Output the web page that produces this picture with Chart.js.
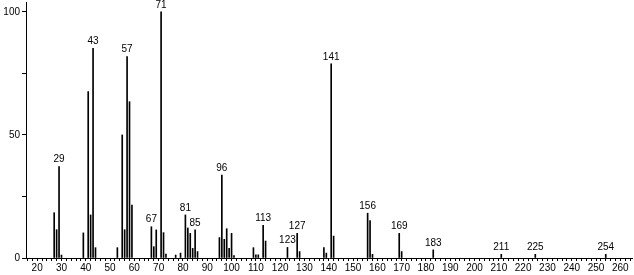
<!DOCTYPE html>
<html>
<head>
<meta charset="utf-8">
<script src="https://cdn.jsdelivr.net/npm/chart.js@4.4.1/dist/chart.umd.min.js"></script>
<style>
  html, body { margin: 0; padding: 0; background: #fff; }
  #wrap { width: 634px; height: 275px; }
</style>
</head>
<body>
<div id="wrap"><canvas id="c" width="634" height="275"></canvas></div>
<script>
const mz = [27,28,29,30,39,41,42,43,44,53,55,56,57,58,59,67,68,69,71,72,73,77,79,81,82,83,84,85,86,95,96,97,98,99,100,101,109,110,111,113,114,123,127,128,138,139,141,142,156,157,158,169,170,183,211,225,254];
const intensity = [18.4,11.5,37.1,1.2,10.2,67.6,17.5,85.2,4.2,4.2,50,11.5,81.8,63.5,21.5,12.7,4.6,11.4,100,10.3,1.6,1.2,2,17.5,12.2,10,3.9,11.4,2.6,8.3,33.7,7.6,11.9,3.9,10,1,4.2,1.3,1.3,13.3,6.9,4.3,10,2.6,4.2,2,78.9,8.9,18.2,15.2,1.5,10,2.6,3.3,1.5,1.5,1.5];
const labeledPeaks = [29,43,57,67,71,81,85,96,113,123,127,141,156,169,183,211,225,254];
const xTickLabels = [20,30,40,50,60,70,80,90,100,110,120,130,140,150,160,170,180,190,200,210,220,230,240,250,260];
const yTickLabels = [0,50,100];

const points = mz.map((m, i) => ({ x: m, y: intensity[i] }));
const FONT = "'Liberation Sans', Arial, sans-serif";

const peakLabels = {
  id: 'peakLabels',
  afterDatasetsDraw(chart) {
    const ctx = chart.ctx;
    const xs = chart.scales.x, ys = chart.scales.y;
    ctx.save();
    ctx.font = "10px " + FONT;
    ctx.fillStyle = '#000';
    ctx.textAlign = 'center';
    ctx.textBaseline = 'bottom';
    labeledPeaks.forEach(m => {
      const i = mz.indexOf(m);
      if (i < 0) return;
      const px = xs.getPixelForValue(m);
      const py = ys.getPixelForValue(intensity[i]);
      ctx.fillText(String(m), px, py - 2);
    });
    ctx.restore();
  }
};

function zeroPad(scale) {
  scale.paddingTop = 0; scale.paddingBottom = 0;
  scale.paddingLeft = 0; scale.paddingRight = 0;
}

new Chart(document.getElementById('c'), {
  type: 'bar',
  data: {
    datasets: [{
      data: points,
      backgroundColor: '#000',
      borderWidth: 0,
      barThickness: 1,
      grouped: false
    }]
  },
  options: {
    responsive: false,
    animation: false,
    layout: { padding: { left: 0, right: 2, top: 2, bottom: 0 } },
    plugins: { legend: { display: false }, tooltip: { enabled: false } },
    scales: {
      x: {
        type: 'linear',
        offset: false,
        min: 15.4,
        max: 264.8,
        afterBuildTicks(scale) {
          const t = [];
          for (let v = 16; v <= 264; v += 2) t.push({ value: v });
          scale.ticks = t;
        },
        afterFit(scale) { scale.height = 17; zeroPad(scale); },
        grid: { display: true, offset: false, drawOnChartArea: false, drawTicks: true, tickLength: 3, color: '#000', tickColor: '#000' },
        border: { display: true, color: '#000', width: 1 },
        ticks: {
          autoSkip: false,
          maxRotation: 0,
          padding: 1,
          color: '#000',
          font: { size: 10, family: FONT },
          callback: (v) => xTickLabels.includes(v) ? String(v) : ''
        }
      },
      y: {
        min: 0,
        max: 104,
        afterBuildTicks(scale) {
          scale.ticks = [0,25,50,75,100].map(v => ({ value: v }));
        },
        afterFit(scale) { scale.width = 26; zeroPad(scale); },
        grid: { display: true, drawOnChartArea: false, drawTicks: true, tickLength: 4, color: '#000', tickColor: '#000' },
        border: { display: true, color: '#000', width: 1 },
        ticks: {
          autoSkip: false,
          padding: 2,
          color: '#000',
          font: { size: 10, family: FONT },
          callback: (v) => yTickLabels.includes(v) ? String(v) : ''
        }
      }
    }
  },
  plugins: [peakLabels]
});
</script>
</body>
</html>
